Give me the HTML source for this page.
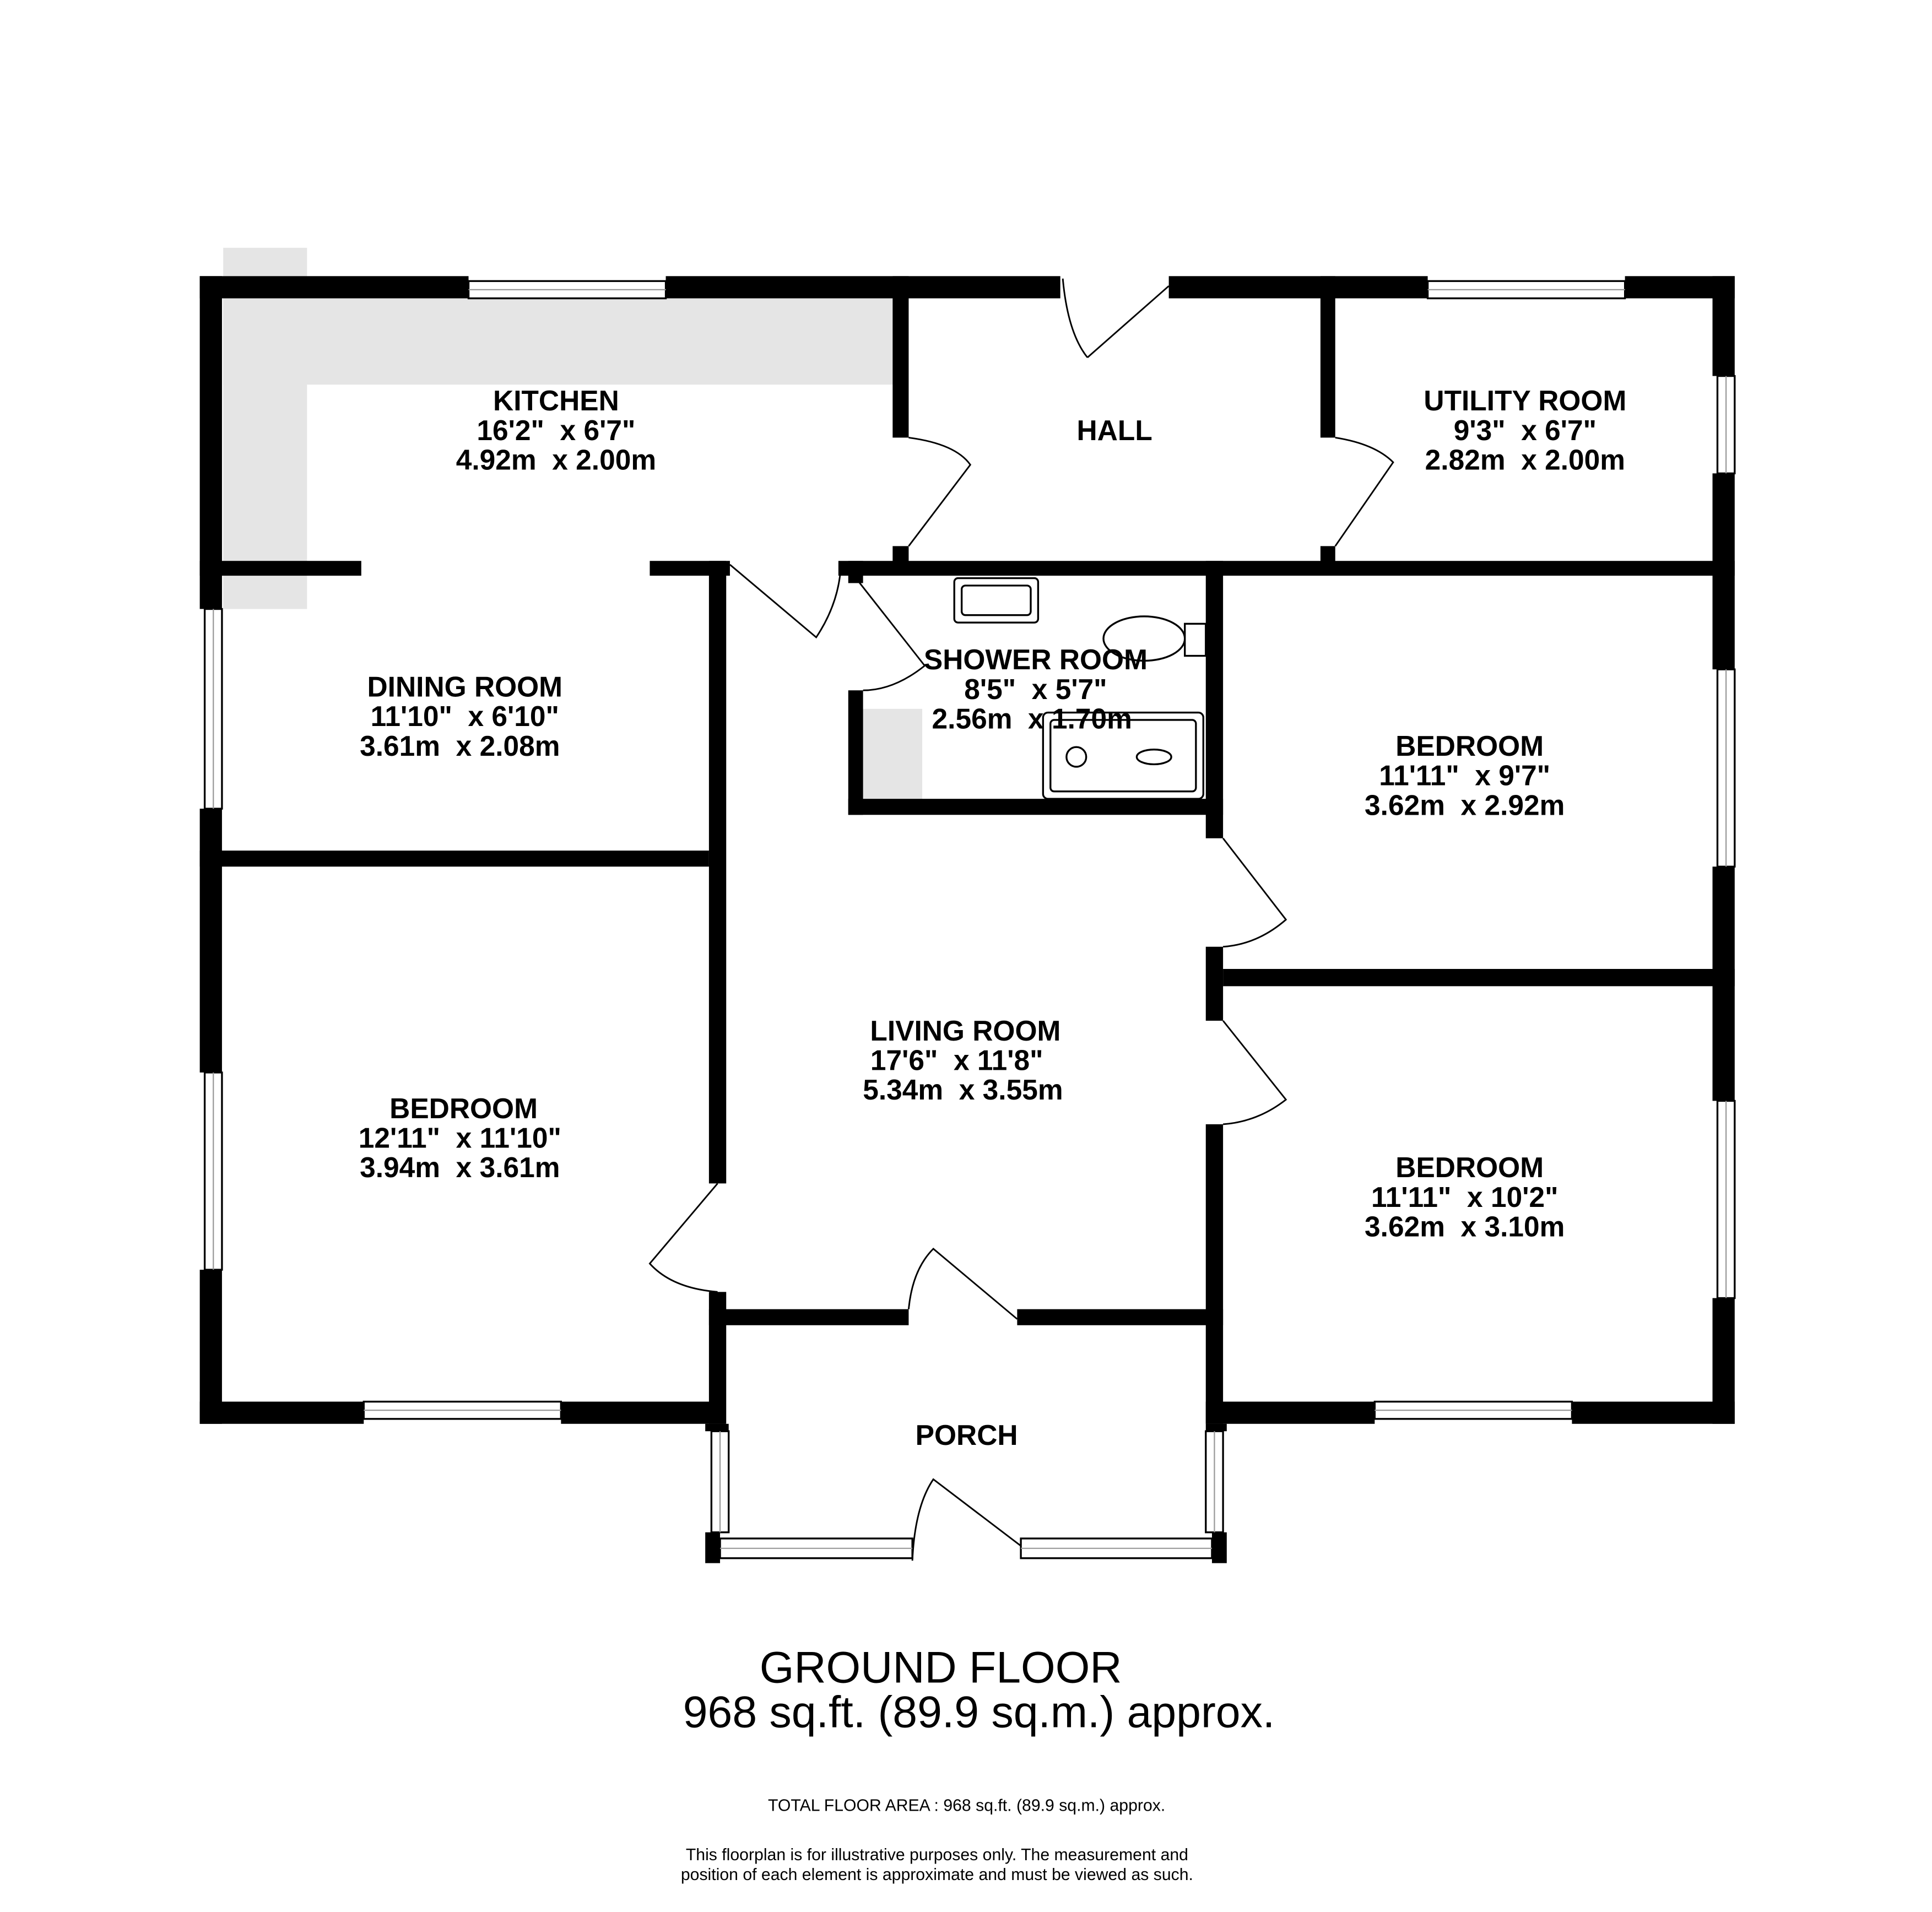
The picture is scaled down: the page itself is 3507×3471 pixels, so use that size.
<!DOCTYPE html>
<html><head><style>html,body{margin:0;padding:0;background:#fff}svg{display:block}text{white-space:pre}</style></head>
<body>
<svg width="3507" height="3471" viewBox="0 0 1567 1551" xmlns="http://www.w3.org/2000/svg" font-family="'Liberation Sans',Arial,sans-serif">
<rect width="1567" height="1551" fill="#fff"/>
<g fill="#e5e5e5">
<rect x="181" y="201" width="68" height="293"/>
<rect x="181" y="242" width="543" height="70"/>
<rect x="700" y="575" width="48" height="73"/>
</g>
<g fill="#000">
<rect x="162" y="224" width="218" height="18"/>
<rect x="540" y="224" width="187" height="18"/>
<rect x="727" y="224" width="133" height="18"/>
<rect x="948" y="224" width="210" height="18"/>
<rect x="1318" y="224" width="89" height="18"/>
<rect x="162" y="224" width="18" height="270"/>
<rect x="162" y="656" width="18" height="214"/>
<rect x="162" y="1030" width="18" height="125"/>
<rect x="1389" y="224" width="18" height="81"/>
<rect x="1389" y="384" width="18" height="159"/>
<rect x="1389" y="703" width="18" height="190"/>
<rect x="1389" y="1053" width="18" height="102"/>
<rect x="162" y="1137" width="133" height="18"/>
<rect x="455" y="1137" width="133" height="18"/>
<rect x="978" y="1137" width="137" height="18"/>
<rect x="1275" y="1137" width="132" height="18"/>
<rect x="724" y="224" width="13" height="131"/>
<rect x="724" y="443" width="13" height="22"/>
<rect x="1071" y="224" width="12" height="131"/>
<rect x="1071" y="443" width="12" height="22"/>
<rect x="162" y="455" width="131" height="12"/>
<rect x="527" y="455" width="65" height="12"/>
<rect x="680" y="455" width="727" height="12"/>
<rect x="575" y="455" width="14" height="505"/>
<rect x="575" y="1048" width="14" height="107"/>
<rect x="162" y="690" width="413" height="13"/>
<rect x="978" y="455" width="14" height="225"/>
<rect x="688" y="648" width="304" height="13"/>
<rect x="688" y="560" width="12" height="101"/>
<rect x="688" y="455" width="12" height="18"/>
<rect x="978" y="768" width="14" height="60"/>
<rect x="978" y="912" width="14" height="243"/>
<rect x="992" y="786" width="415" height="14"/>
<rect x="575" y="1062" width="162" height="13"/>
<rect x="825" y="1062" width="167" height="13"/>
<rect x="572" y="1155" width="19" height="6"/>
<rect x="572" y="1243" width="12" height="25"/>
<rect x="983" y="1243" width="12" height="25"/>
<rect x="978" y="1155" width="17" height="6"/>
</g>
<g fill="#fff" stroke="#000" stroke-width="1.5">
<rect x="380" y="228" width="160" height="14"/>
<rect x="1158" y="228" width="160" height="14"/>
<rect x="1393" y="305" width="14" height="79"/>
<rect x="1393" y="543" width="14" height="160"/>
<rect x="1393" y="893" width="14" height="160"/>
<rect x="166" y="494" width="14" height="162"/>
<rect x="166" y="870" width="14" height="160"/>
<rect x="295" y="1137" width="160" height="14"/>
<rect x="1115" y="1137" width="160" height="14"/>
<rect x="577" y="1161" width="14" height="82"/>
<rect x="978" y="1161" width="14" height="82"/>
<rect x="584" y="1248" width="156" height="16"/>
<rect x="828" y="1248" width="155" height="16"/>
</g>
<g stroke="#999" stroke-width="1"><line x1="380" y1="235" x2="540" y2="235"/><line x1="1158" y1="235" x2="1318" y2="235"/><line x1="1400" y1="305" x2="1400" y2="384"/><line x1="1400" y1="543" x2="1400" y2="703"/><line x1="1400" y1="893" x2="1400" y2="1053"/><line x1="173" y1="494" x2="173" y2="656"/><line x1="173" y1="870" x2="173" y2="1030"/><line x1="295" y1="1144" x2="455" y2="1144"/><line x1="1115" y1="1144" x2="1275" y2="1144"/><line x1="584" y1="1161" x2="584" y2="1243"/><line x1="985" y1="1161" x2="985" y2="1243"/><line x1="584" y1="1256" x2="740" y2="1256"/><line x1="828" y1="1256" x2="983" y2="1256"/></g>
<g fill="none" stroke="#000" stroke-width="1.3">
<path d="M862 226 Q866 270 882 290"/>
<path d="M948 232 L882 290"/>
<path d="M737 355 Q775 360 787 377 L737 443"/>
<path d="M1083 355 Q1115 360 1130 375 L1083 443"/>
<path d="M592 458 L662 517 Q680 490 682 460"/>
<path d="M695 470 L750 540 Q725 560 700 560"/>
<path d="M992 680 L1043 746 Q1020 766 992 768"/>
<path d="M992 828 L1043 892 Q1020 910 992 912"/>
<path d="M582 960 L527 1025 Q545 1045 582 1048"/>
<path d="M737 1062 Q740 1030 757 1013 L825 1070"/>
<path d="M740 1266 Q742 1222 757 1200 L828 1254"/>
</g>
<g fill="#fff" stroke="#000" stroke-width="1.5">
<rect x="774" y="469" width="68" height="36" rx="3"/>
<rect x="780" y="475" width="56" height="24" rx="3"/>
<ellipse cx="928" cy="518" rx="33" ry="18"/>
<rect x="961" y="506" width="17" height="26"/>
<rect x="846" y="578" width="130" height="70" rx="4"/>
<rect x="852" y="584" width="118" height="58" rx="3"/>
<circle cx="873" cy="614" r="8"/>
<ellipse cx="936" cy="614" rx="14" ry="6"/>
</g>
<g font-weight="bold" font-size="23" text-anchor="middle" fill="#000">
<text x="451" y="333">KITCHEN</text><text x="451" y="357">16'2"  x 6'7"</text><text x="451" y="381">4.92m  x 2.00m</text>
<text x="904" y="357">HALL</text>
<text x="1237" y="333">UTILITY ROOM</text><text x="1237" y="357">9'3"  x 6'7"</text><text x="1237" y="381">2.82m  x 2.00m</text>
<text x="377" y="565">DINING ROOM</text><text x="377" y="589">11'10"  x 6'10"</text><text x="373" y="613">3.61m  x 2.08m</text>
<text x="840" y="543">SHOWER ROOM</text><text x="840" y="567">8'5"  x 5'7"</text><text x="837" y="591">2.56m  x 1.70m</text>
<text x="1192" y="613">BEDROOM</text><text x="1188" y="637">11'11"  x 9'7"</text><text x="1188" y="661">3.62m  x 2.92m</text>
<text x="783" y="844">LIVING ROOM</text><text x="776" y="868">17'6"  x 11'8"</text><text x="781" y="892">5.34m  x 3.55m</text>
<text x="376" y="907">BEDROOM</text><text x="373" y="931">12'11"  x 11'10"</text><text x="373" y="955">3.94m  x 3.61m</text>
<text x="1192" y="955">BEDROOM</text><text x="1188" y="979">11'11"  x 10'2"</text><text x="1188" y="1003">3.62m  x 3.10m</text>
<text x="784" y="1172">PORCH</text>
</g>
<g text-anchor="middle" fill="#000">
<text x="763" y="1365" font-size="36">GROUND FLOOR</text>
<text x="794" y="1401" font-size="36">968 sq.ft. (89.9 sq.m.) approx.</text>
<text x="784" y="1469" font-size="13.5">TOTAL FLOOR AREA : 968 sq.ft. (89.9 sq.m.) approx.</text>
<text x="760" y="1509" font-size="13.5">This floorplan is for illustrative purposes only. The measurement and</text>
<text x="760" y="1525" font-size="13.5">position of each element is approximate and must be viewed as such.</text>
</g>
</svg>
</body></html>
